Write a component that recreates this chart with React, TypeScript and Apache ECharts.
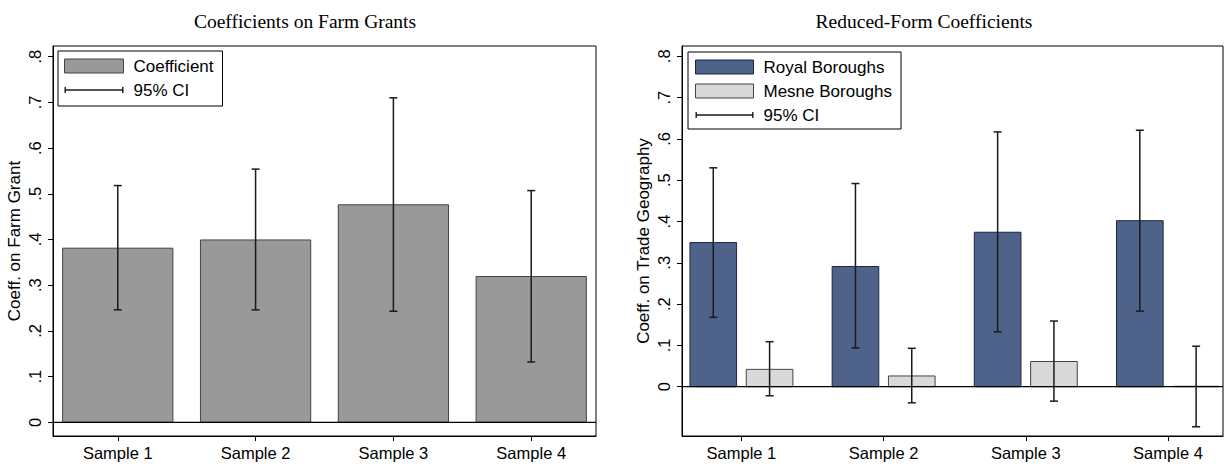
import React, { useEffect, useRef } from 'react';
import * as echarts from 'echarts';

const categories = ['Sample 1', 'Sample 2', 'Sample 3', 'Sample 4'];
const positions = [1, 2, 3, 4];

const farmCoef = [0.381, 0.399, 0.476, 0.319];
const farmLo = [0.246, 0.246, 0.243, 0.132];
const farmHi = [0.518, 0.554, 0.710, 0.507];

const royalCoef = [0.349, 0.291, 0.374, 0.402];
const royalLo = [0.168, 0.094, 0.133, 0.183];
const royalHi = [0.530, 0.492, 0.617, 0.621];

const mesneCoef = [0.042, 0.026, 0.061, 0.001];
const mesneLo = [-0.022, -0.039, -0.035, -0.097];
const mesneHi = [0.109, 0.093, 0.159, 0.098];

const yTicks = [0, 0.1, 0.2, 0.3, 0.4, 0.5, 0.6, 0.7, 0.8];

const titles = ['Coefficients on Farm Grants', 'Reduced-Form Coefficients'];
const yNames = ['Coeff. on Farm Grant', 'Coeff. on Trade Geography'];

const SANS = 'Liberation Sans, Arial, sans-serif';
const SERIF = 'Liberation Serif, Times New Roman, serif';

const CI_ICON = 'path://M0,0h1.4v6h-1.4z M0,2.35h59v1.3h-59z M57.6,0h1.4v6h-1.4z';

function tickFmt(v: number): string {
  if (Math.abs(v) < 1e-9) return '0';
  return '.' + Math.round(v * 10);
}

function barSeries(name: string, xIndex: number, vals: number[], offset: number, width: number, fill: string, stroke: string) {
  return {
    type: 'custom',
    name,
    xAxisIndex: xIndex,
    yAxisIndex: xIndex,
    itemStyle: { color: fill, borderColor: stroke, borderWidth: 1 },
    encode: { x: 0, y: 1 },
    data: positions.map((p, i) => [p, vals[i]]),
    z: 2,
    renderItem: (params: any, api: any) => {
      const x = api.value(0) + offset;
      const v = api.value(1);
      const a = api.coord([x - width / 2, 0]);
      const b = api.coord([x + width / 2, v]);
      return {
        type: 'rect',
        shape: {
          x: a[0],
          y: Math.min(a[1], b[1]),
          width: b[0] - a[0],
          height: Math.abs(b[1] - a[1]),
        },
        style: { fill, stroke, lineWidth: 1 },
      };
    },
  };
}

function ciSeries(xIndex: number, lo: number[], hi: number[], offset: number) {
  return {
    type: 'custom',
    name: '95% CI',
    xAxisIndex: xIndex,
    yAxisIndex: xIndex,
    itemStyle: { color: '#1a1a1a' },
    encode: { x: 0, y: [1, 2] },
    data: positions.map((p, i) => [p, lo[i], hi[i]]),
    z: 4,
    renderItem: (params: any, api: any) => {
      const x = api.value(0) + offset;
      const pl = api.coord([x, api.value(1)]);
      const ph = api.coord([x, api.value(2)]);
      const cap = 4;
      const st = { stroke: '#1a1a1a', lineWidth: 1.5 };
      return {
        type: 'group',
        children: [
          { type: 'line', shape: { x1: pl[0], y1: pl[1], x2: ph[0], y2: ph[1] }, style: st },
          { type: 'line', shape: { x1: ph[0] - cap, y1: ph[1], x2: ph[0] + cap, y2: ph[1] }, style: st },
          { type: 'line', shape: { x1: pl[0] - cap, y1: pl[1], x2: pl[0] + cap, y2: pl[1] }, style: st },
        ],
      };
    },
  };
}

function zeroLine(xIndex: number) {
  return {
    type: 'custom',
    name: 'zero',
    xAxisIndex: xIndex,
    yAxisIndex: xIndex,
    encode: { x: 0, y: 1 },
    data: [[positions[0], 0]],
    z: 3,
    silent: true,
    renderItem: (params: any, api: any) => {
      const cs = params.coordSys;
      const y = api.coord([positions[0], 0])[1];
      return {
        type: 'line',
        shape: { x1: cs.x, y1: y, x2: cs.x + cs.width, y2: y },
        style: { stroke: '#000', lineWidth: 1.2 },
      };
    },
  };
}

function xAxis(gridIndex: number, min: number, max: number) {
  return {
    type: 'value',
    gridIndex,
    min,
    max,
    splitLine: { show: false },
    axisLine: { show: true, onZero: false, lineStyle: { color: '#000', width: 1 } },
    axisTick: { show: true, customValues: positions, length: 5, lineStyle: { color: '#000' } },
    axisLabel: {
      show: true,
      customValues: positions,
      formatter: (v: number) => categories[Math.round(v) - 1] || '',
      margin: 8,
      color: '#000',
      fontFamily: SANS,
      fontSize: 16.5,
    },
  };
}

function yAxis(gridIndex: number, min: number, max: number, name: string) {
  return {
    type: 'value',
    gridIndex,
    min,
    max,
    name,
    nameLocation: 'middle',
    nameGap: 30,
    nameTextStyle: { color: '#000', fontFamily: SANS, fontSize: 17 },
    splitLine: { show: false },
    axisLine: { show: true, onZero: false, lineStyle: { color: '#000', width: 1 } },
    axisTick: { show: true, customValues: yTicks, length: 5, lineStyle: { color: '#000' } },
    axisLabel: {
      show: true,
      customValues: yTicks,
      rotate: 90,
      formatter: tickFmt,
      margin: 10,
      color: '#000',
      fontFamily: SANS,
      fontSize: 16.5,
    },
  };
}

export default function App() {
  const ref = useRef<HTMLDivElement>(null);

  useEffect(() => {
    if (!ref.current) return;
    const chart = echarts.init(ref.current, undefined, { renderer: 'svg' });
    const legendText = { color: '#000', fontFamily: SANS, fontSize: 17, lineHeight: 18, padding: [0, 0, 0, 5] };
    chart.setOption({
      animation: false,
      backgroundColor: '#fff',
      title: [
        {
          text: titles[0],
          left: 300,
          top: 6,
          textAlign: 'center',
          textStyle: { fontFamily: SERIF, fontWeight: 'normal', fontSize: 19.5, color: '#000' },
        },
        {
          text: titles[1],
          left: 919,
          top: 6,
          textAlign: 'center',
          textStyle: { fontFamily: SERIF, fontWeight: 'normal', fontSize: 19.5, color: '#000' },
        },
      ],
      legend: [
        {
          orient: 'vertical',
          left: 58,
          top: 51,
          padding: [6, 9, 7, 6],
          itemGap: 6,
          itemWidth: 59,
          itemHeight: 14,
          borderColor: '#000',
          borderWidth: 1,
          selectedMode: false,
          textStyle: legendText,
          data: [
            { name: 'Coefficient', icon: 'rect', itemStyle: { color: '#999999', borderColor: '#444', borderWidth: 1 } },
            { name: '95% CI', icon: CI_ICON, itemStyle: { color: '#1a1a1a', borderWidth: 0 } },
          ],
        },
        {
          orient: 'vertical',
          left: 688,
          top: 52,
          padding: [6, 9, 5, 7],
          itemGap: 6,
          itemWidth: 58,
          itemHeight: 14,
          borderColor: '#000',
          borderWidth: 1,
          selectedMode: false,
          textStyle: legendText,
          data: [
            { name: 'Royal Boroughs', icon: 'rect', itemStyle: { color: '#4f628a', borderColor: '#1c2540', borderWidth: 1 } },
            { name: 'Mesne Boroughs', icon: 'rect', itemStyle: { color: '#d9d9d9', borderColor: '#444', borderWidth: 1 } },
            { name: '95% CI', icon: CI_ICON, itemStyle: { color: '#1a1a1a', borderWidth: 0 } },
          ],
        },
      ],
      grid: [
        { left: 53, top: 46, width: 543, height: 390, show: true, borderColor: '#000', borderWidth: 1, backgroundColor: 'transparent' },
        { left: 682, top: 46, width: 541, height: 390, show: true, borderColor: '#000', borderWidth: 1, backgroundColor: 'transparent' },
      ],
      xAxis: [xAxis(0, 0.53, 4.47), xAxis(1, 0.582, 4.387)],
      yAxis: [yAxis(0, -0.03, 0.8234, yNames[0]), yAxis(1, -0.1194, 0.825, yNames[1])],
      series: [
        barSeries('Coefficient', 0, farmCoef, 0, 0.8, '#999999', '#444'),
        zeroLine(0),
        ciSeries(0, farmLo, farmHi, 0),
        barSeries('Royal Boroughs', 1, royalCoef, -0.198, 0.328, '#4f628a', '#1c2540'),
        barSeries('Mesne Boroughs', 1, mesneCoef, 0.198, 0.328, '#d9d9d9', '#444'),
        zeroLine(1),
        ciSeries(1, royalLo, royalHi, -0.198),
        ciSeries(1, mesneLo, mesneHi, 0.198),
      ],
    });
    return () => chart.dispose();
  }, []);

  return <div ref={ref} style={{ width: 1225, height: 466, position: 'absolute', left: 0, top: 0 }} />;
}
